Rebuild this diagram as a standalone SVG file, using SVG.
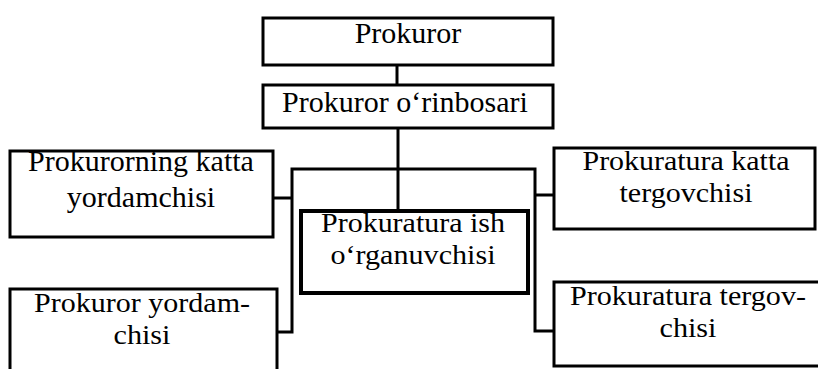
<svg xmlns="http://www.w3.org/2000/svg" width="818" height="369" viewBox="0 0 818 369">
<style>
.box{fill:#fff;stroke:#000;stroke-width:3}
.thick{stroke-width:4}
.t{font-family:"Liberation Serif","Times New Roman",serif;font-size:30px;fill:#000;text-anchor:middle}
.s{font-size:28px}
.c{fill:none;stroke:#000;stroke-width:3}
</style>
<rect width="818" height="369" fill="#fff"/>
<g id="connectors">
<line class="c" x1="397" y1="64" x2="397" y2="85"/>
<line class="c" x1="398" y1="128" x2="398" y2="212"/>
<line class="c" x1="274" y1="198" x2="292" y2="198"/>
<polyline class="c" points="278,332 292,332 292,169 535,169 535,331 555,331"/>
<line class="c" x1="535" y1="195" x2="555" y2="195"/>
</g>
<g id="n1"><rect class="box" x="263" y="18" width="290" height="47"/><text class="t" x="408" y="43">Prokuror</text></g>
<g id="n2"><rect class="box" x="263" y="85" width="290" height="43"/><text class="t" x="405" y="112">Prokuror o‘rinbosari</text></g>
<g id="n3"><rect class="box" x="10" y="151" width="263" height="86"/><text class="t" x="141" y="171">Prokurorning katta</text><text class="t" x="141" y="207">yordamchisi</text></g>
<g id="n4"><rect class="box" x="10" y="289" width="267" height="84"/><text class="t s" x="142" y="312" textLength="216" lengthAdjust="spacingAndGlyphs">Prokuror yordam-</text><text class="t s" x="142" y="344" textLength="57" lengthAdjust="spacingAndGlyphs">chisi</text></g>
<g id="n5"><rect class="box thick" x="301" y="211" width="227" height="82"/><text class="t s" x="413" y="232" textLength="184" lengthAdjust="spacingAndGlyphs">Prokuratura ish</text><text class="t s" x="413" y="264" textLength="165" lengthAdjust="spacingAndGlyphs">o‘rganuvchisi</text></g>
<g id="n6"><rect class="box" x="554" y="148" width="261" height="81"/><text class="t s" x="686" y="170" textLength="207" lengthAdjust="spacingAndGlyphs">Prokuratura katta</text><text class="t s" x="686" y="202" textLength="133" lengthAdjust="spacingAndGlyphs">tergovchisi</text></g>
<g id="n7"><rect class="box" x="554" y="282" width="266" height="84"/><text class="t s" x="688" y="305" textLength="236" lengthAdjust="spacingAndGlyphs">Prokuratura tergov-</text><text class="t s" x="688" y="337" textLength="57" lengthAdjust="spacingAndGlyphs">chisi</text></g>
</svg>
